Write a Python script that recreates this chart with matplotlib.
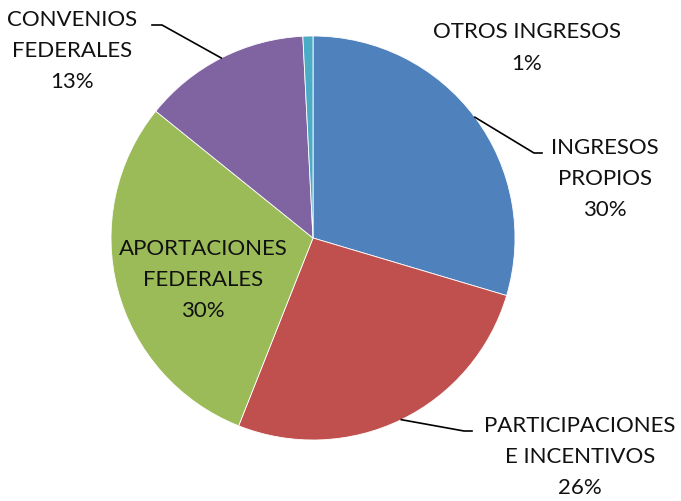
import numpy as np
import matplotlib.pyplot as plt

categorias = ['INGRESOS\nPROPIOS', 'PARTICIPACIONES\nE INCENTIVOS', 'APORTACIONES\nFEDERALES',
              'CONVENIOS\nFEDERALES', 'OTROS INGRESOS']
valores = [29.6, 26.4, 29.8, 13.4, 0.8]
colores = ['#4F81BD', '#C0504D', '#9BBB59', '#8064A2', '#4BACC6']

plt.rcParams['font.family'] = ['Lato', 'DejaVu Sans']

fig = plt.figure(figsize=(6.81, 5.01), dpi=100)
ax = fig.add_axes([0, 0, 1, 1])

cx, cy, r = 313, 501 - 238, 202
wedges, _ = ax.pie(valores, colors=colores, startangle=90, counterclock=False,
                   center=(cx, cy), radius=r, frame=True,
                   wedgeprops=dict(edgecolor='white', linewidth=0.6))
ax.set_xlim(0, 681)
ax.set_ylim(0, 501)
ax.set_aspect('equal')
ax.axis('off')

pct = ['%d%%' % round(v) for v in valores]
# posicion del texto (px desde arriba) y si lleva linea guia
etiquetas = [
    (605, 179, 'right'),
    (580, 457, 'right'),
    (203, 280, None),
    (72, 51, 'left'),
    (527, 48, None),
]
fs = 16
for w, cat, p, (tx, ty, lado) in zip(wedges, categorias, pct, etiquetas):
    ax.text(tx, 501 - ty, cat + '\n' + p, ha='center', va='center',
            fontsize=fs, linespacing=1.7, color='#111111')
    if lado is None:
        continue
    ang = np.deg2rad((w.theta1 + w.theta2) / 2)
    px, py = cx + r * np.cos(ang), cy + r * np.sin(ang)
    if lado == 'right':
        y1 = 501 - ty + 26
        x1 = tx - 63 if cat.startswith('INGRESOS') else tx - 108
        ax.plot([px, x1 - 8, x1], [py, y1, y1], color='black', lw=1.2)
    else:
        y1 = 501 - ty + 26
        x1 = tx + 80
        ax.plot([px, x1 + 10, x1], [py, y1, y1], color='black', lw=1.2)

fig.savefig('out.png', dpi=100)
